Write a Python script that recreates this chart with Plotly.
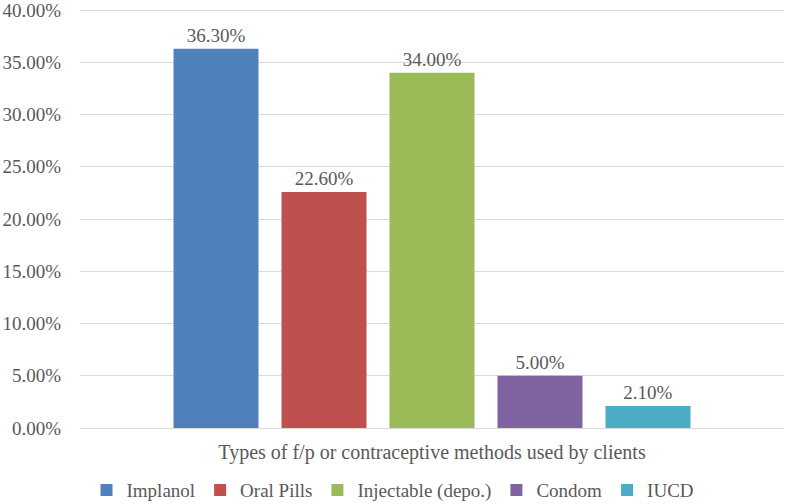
import plotly.graph_objects as go

category = "Types of f/p or contraceptive methods used by clients"
methods = ["Implanol", "Oral Pills", "Injectable (depo.)", "Condom", "IUCD"]
values = [0.363, 0.226, 0.340, 0.050, 0.021]
colors = ["#4F81BD", "#C0504D", "#9BBB59", "#8064A2", "#4BACC6"]
y_ticks = [0, 0.05, 0.10, 0.15, 0.20, 0.25, 0.30, 0.35, 0.40]

font_family = "Liberation Serif, Times New Roman, serif"
txt_color = "#595959"

fig = go.Figure()
for m, v, c in zip(methods, values, colors):
    fig.add_trace(go.Bar(
        name=m, x=[category], y=[v], marker=dict(color=c, line=dict(width=0)),
        text=[v], texttemplate="%{y:.2%}", textposition="outside",
        textfont=dict(family=font_family, size=19, color=txt_color),
        cliponaxis=False,
    ))

fig.update_layout(
    width=786, height=504,
    margin=dict(l=80, r=2, t=8, b=76, autoexpand=False),
    paper_bgcolor="white", plot_bgcolor="white",
    barmode="group", bargap=0.233, bargroupgap=0.213,
    font=dict(family=font_family, size=19, color=txt_color),
    showlegend=True,
    legend=dict(orientation="h", xref="container", x=0.5, xanchor="center",
                yref="paper", y=-0.148, yanchor="middle",
                font=dict(family=font_family, size=19, color=txt_color),
                itemwidth=30, tracegroupgap=0),
)
fig.update_xaxes(showline=False, showgrid=False, ticks="", ticklabelstandoff=10,
                 tickfont=dict(family=font_family, size=20, color=txt_color))
fig.update_yaxes(range=[0, 0.402], tickvals=y_ticks, tickformat=".2%",
                 showgrid=True, gridcolor="#D9D9D9", gridwidth=1,
                 zeroline=True, zerolinecolor="#D9D9D9", zerolinewidth=1,
                 showline=False, ticks="", ticklabelstandoff=18,
                 ticklabeloverflow="allow",
                 tickfont=dict(family=font_family, size=19, color=txt_color))

fig.write_html("out.html",
               config={"displayModeBar": False},
               post_script="document.body.style.margin='0';document.body.style.padding='0';")
